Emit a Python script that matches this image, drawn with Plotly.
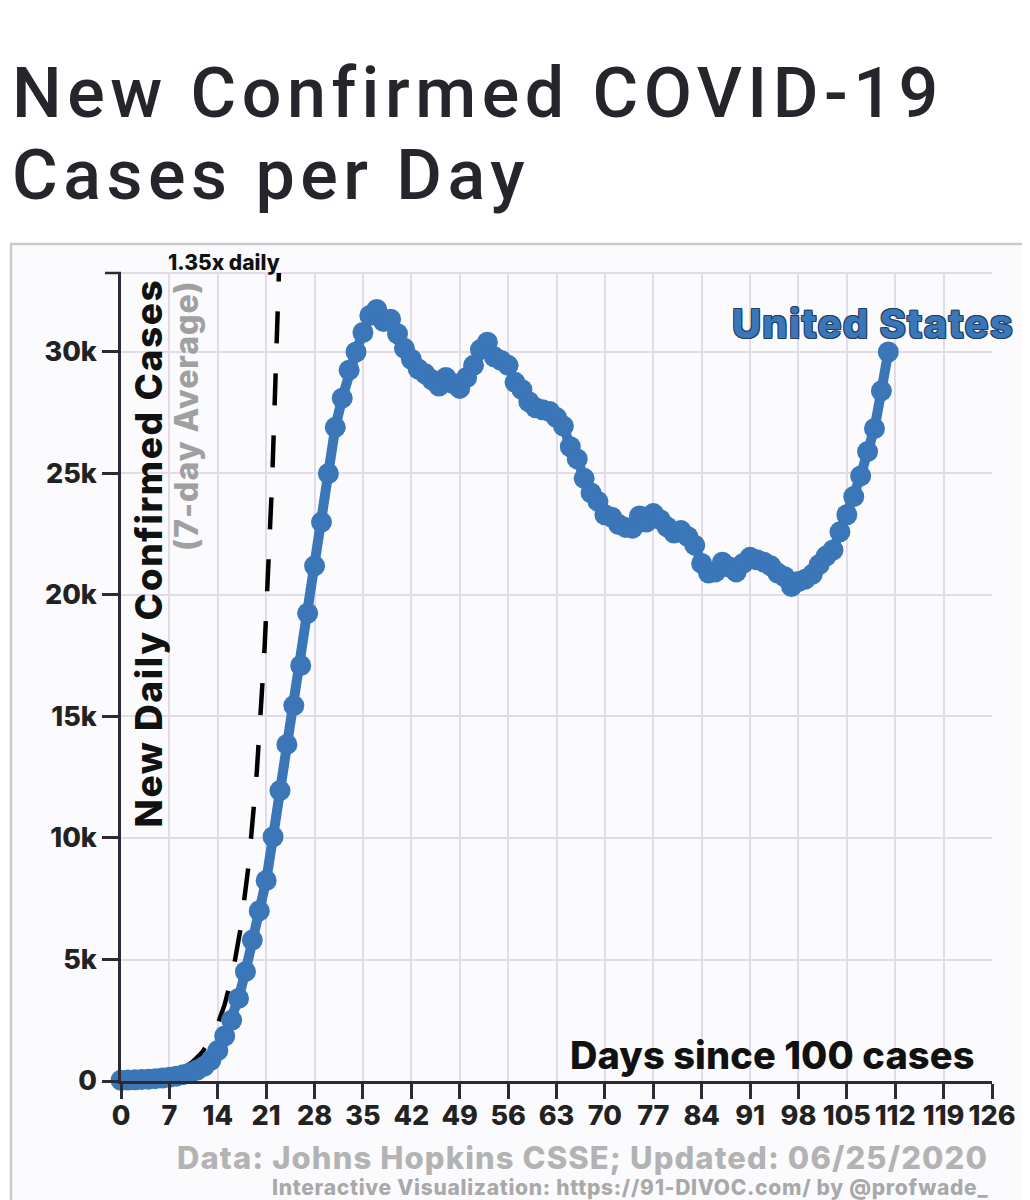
import math
import plotly.graph_objects as go

# ---------------- data ----------------
days = list(range(0, 112))
new_cases_avg = [
    30, 40, 50, 60, 75, 95, 120, 150, 200, 260,
    340, 450, 600, 850, 1250, 1850, 2500, 3400, 4500, 5800,
    7000, 8250, 10050, 11950, 13850, 15450, 17100, 19250, 21200, 23000,
    25000, 26900, 28100, 29250, 30000, 30800, 31500, 31750, 31250, 31350,
    30750, 30150, 29700, 29300, 29100, 28850, 28600, 28950, 28700, 28500,
    28950, 29450, 30100, 30400, 29800, 29650, 29450, 28750, 28450, 27950,
    27700, 27620, 27550, 27300, 26950, 26100, 25600, 24800, 24200, 23850,
    23300, 23200, 22900, 22780, 22750, 23250, 23000, 23350, 23100, 22800,
    22550, 22650, 22400, 22050, 21300, 20900, 20950, 21350, 21150, 20950,
    21300, 21550, 21450, 21350, 21200, 20900, 20750, 20350, 20550, 20650,
    20850, 21250, 21600, 21850, 22600, 23300, 24050, 24900, 25900, 26850,
    28400, 30000,
]
x_ticks = list(range(0, 127, 7))
y_tickvals = [0, 5000, 10000, 15000, 20000, 25000, 30000]
y_ticktext = ["0", "5k", "10k", "15k", "20k", "25k", "30k"]

# reference growth line: "1.35x daily" starting from 100 cases
growth_rate = 1.35
growth_base_new = 35  # new cases/day at day 0 (100 cases growing 35%/day)
y_max = 33250
x_max = 126

# ---------------- layout geometry ----------------
OFF = 8  # page body margin
W, H = 1030 - OFF, 1200 - OFF
L, R, T, B = 121 - OFF, 38, 273 - OFF, 119
PW, PH = W - L - R, H - T - B


def px(xs):
    """screen x -> paper"""
    return (xs - OFF - L) / PW


def py(ys):
    """screen y -> paper"""
    return (H - B - (ys - OFF)) / PH


BLUE = "#3a76b8"
DARK = "#2b2a36"
GRID = "#e2dbea"
FONT = "Inter, 'Open Sans', sans-serif"


def ls(text, sp):
    return f'<span style="letter-spacing:{sp}px">{text}</span>'


# growth guide points
g_end = math.log(y_max / growth_base_new) / math.log(growth_rate)
gx = [i * g_end / 200 for i in range(201)]
gy = [growth_base_new * growth_rate ** v for v in gx]

fig = go.Figure()
fig.add_trace(go.Scatter(
    x=gx, y=gy, mode="lines",
    line=dict(color="black", width=4.5, dash="32px,30px"),
    hoverinfo="skip", showlegend=False,
))
fig.add_trace(go.Scatter(
    x=days, y=new_cases_avg, mode="lines+markers",
    line=dict(color=BLUE, width=10),
    marker=dict(color=BLUE, size=21),
    cliponaxis=False, showlegend=False, name="United States",
))

axis_common = dict(
    showgrid=True, gridcolor=GRID, gridwidth=2,
    showline=True, linecolor=DARK, linewidth=2.5,
    ticks="outside", tickcolor=DARK, tickwidth=2.5,
    zeroline=False,
    tickfont=dict(family=FONT, size=27, color="#222222", weight=800),
)
fig.update_xaxes(range=[0, x_max], tickvals=x_ticks, ticklen=15,
                 ticklabelstandoff=-6, **axis_common)
fig.update_yaxes(range=[0, y_max], tickvals=y_tickvals, ticktext=y_ticktext,
                 ticklen=16, **axis_common)

shapes = [
    # chart frame
    dict(type="rect", xref="paper", yref="paper",
         x0=px(11), x1=px(1060), y0=py(1230), y1=py(244),
         line=dict(color="#c9c9cc", width=2.5), fillcolor="#fbfbfd", layer="below"),
    # top faint gridline
    dict(type="line", xref="paper", yref="paper", x0=0, x1=1, y0=1, y1=1,
         line=dict(color=GRID, width=2), layer="below"),
    # y-axis top outer tick
    dict(type="line", xref="paper", yref="paper", x0=px(105), x1=0, y0=1, y1=1,
         line=dict(color=DARK, width=2.5)),
]

annotations = [
    dict(text=ls("New Confirmed COVID-19", 5.5), x=px(10), y=py(93), xanchor="left", yanchor="middle",
         font=dict(family="Roboto", size=70, color="#24262b", weight=500)),
    dict(text=ls("Cases per Day", 5.5), x=px(10), y=py(175), xanchor="left", yanchor="middle",
         font=dict(family="Roboto", size=70, color="#24262b", weight=500)),
    dict(text=ls("New Daily Confirmed Cases", 1.6), x=px(148), y=py(277), xanchor="center", yanchor="top",
         textangle=-90, font=dict(family=FONT, size=37, color="#111111", weight=800)),
    dict(text=ls("(7-day Average)", 1), x=px(186), y=py(279), xanchor="center", yanchor="top",
         textangle=-90, font=dict(family=FONT, size=32, color="#a0a0a0", weight=800)),
    dict(text="1.35x daily", x=px(282), y=py(262), xanchor="right", yanchor="middle",
         font=dict(family=FONT, size=21, color="#111111", weight=800)),
    dict(text=ls("United States", 1.2), x=px(1016), y=py(323), xanchor="right", yanchor="middle",
         font=dict(family=FONT, size=40, color=BLUE, weight=800,
                   shadow="-1px -1px 0 #1f3f66, 1px -1px 0 #1f3f66, -1px 1px 0 #1f3f66, 1px 1px 0 #1f3f66")),
    dict(text=ls("Days since 100 cases", 0.1), x=px(977), y=py(1055), xanchor="right", yanchor="middle",
         font=dict(family=FONT, size=38, color="#111111", weight=800)),
    dict(text=ls("Data: Johns Hopkins CSSE; Updated: 06/25/2020", 1.1), x=px(990), y=py(1157),
         xanchor="right", yanchor="middle",
         font=dict(family=FONT, size=31, color="#b3b3b3", weight=800)),
    dict(text=ls("Interactive Visualization: https://91-DIVOC.com/ by @profwade_", 0.7),
         x=px(990), y=py(1187), xanchor="right", yanchor="middle",
         font=dict(family=FONT, size=21, color="#a9a9a9", weight=800)),
]
for a in annotations:
    a.update(xref="paper", yref="paper", showarrow=False)

fig.update_layout(
    width=W, height=H, autosize=False,
    margin=dict(l=L, r=R, t=T, b=B, pad=0),
    paper_bgcolor="white", plot_bgcolor="rgba(0,0,0,0)",
    shapes=shapes, annotations=annotations,
    showlegend=False,
)

fig.write_html("out.html")
